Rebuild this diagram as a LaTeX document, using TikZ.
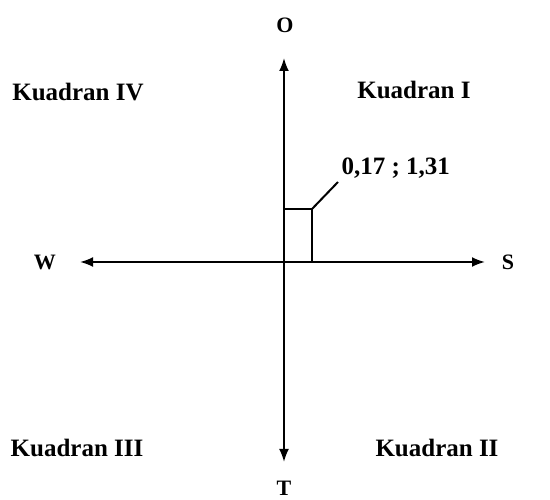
\documentclass[tikz,border=0pt]{standalone}
\usepackage{fontspec}
\setmainfont{Liberation Serif}
\usetikzlibrary{arrows.meta,positioning}
\begin{document}
\begin{tikzpicture}[x=1pt,y=1pt,
    axisline/.style={line width=2pt,-{Latex[length=13pt,width=10pt]}},
    dirlabel/.style={font=\fontsize{22}{25}\selectfont\bfseries,inner sep=1pt},
    quadlabel/.style={font=\fontsize{25}{28}\selectfont\bfseries}]
        \useasboundingbox (0,0) rectangle (550,500);
        \def\ox{284}
        \def\oy{238}
        % Axes end points
        \coordinate (origin) at (\ox,\oy);
        \coordinate (north) at (\ox,442);
        \coordinate (south) at (\ox,38);
        \coordinate (west) at (80,\oy);
        \coordinate (east) at (485,\oy);
        \draw[axisline] (origin) -- (north);
        \draw[axisline] (origin) -- (south);
        \draw[axisline] (origin) -- (west);
        \draw[axisline] (origin) -- (east);
        % Direction labels
        \node[dirlabel] (labO) at (\ox+1,475) {O};
        \node[dirlabel] (labT) at (\ox,12) {T};
        \node[dirlabel] (labW) at (45,\oy) {W};
        \node[dirlabel] (labS) at (508,\oy) {S};
        % Point
        \coordinate (pt) at (312,291);
        \coordinate (ptx) at (312,\oy);
        \coordinate (pty) at (\ox,291);
        \coordinate (lead) at (338,318);
        \draw[line width=2pt] (pty) -- (pt) -- (ptx);
        \draw[line width=2pt] (pt) -- (lead);
        \node[quadlabel,anchor=west] (val) at (338,332) {0,17 ; 1,31};
        % Quadrants
        \node[quadlabel] (q4) at (78,408) {Kuadran IV};
        \node[quadlabel] (q1) at (414,410) {Kuadran I};
        \node[quadlabel] (q3) at (77,52) {Kuadran III};
        \node[quadlabel] (q2) at (437,52) {Kuadran II};
      \end{tikzpicture}
\end{document}
